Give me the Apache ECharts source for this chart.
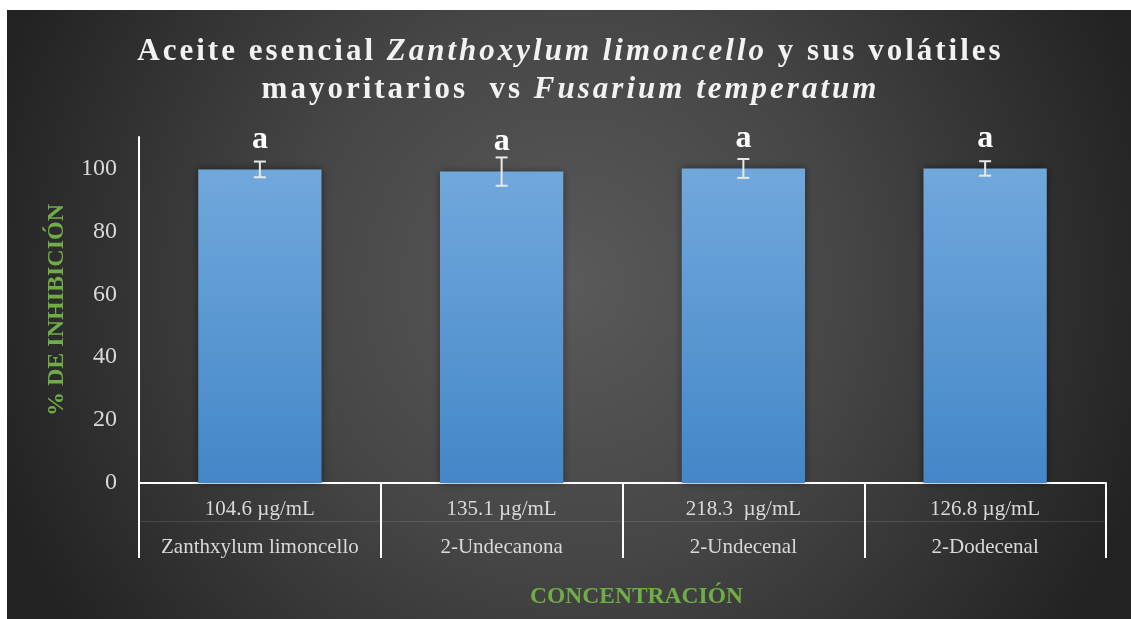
<!DOCTYPE html>
<html>
<head>
<meta charset="utf-8">
<title>Aceite esencial Zanthoxylum limoncello vs Fusarium temperatum</title>
<script src="https://cdn.jsdelivr.net/npm/echarts@6/dist/echarts.min.js"></script>
<style>
  html, body { margin: 0; padding: 0; background: #ffffff; }
  #chart { position: absolute; left: 7px; top: 10px; width: 1124px; height: 609px; }
</style>
</head>
<body>
<div id="chart"></div>
<script>
// Concentration tested for each treatment (first label row)
const concentrations = ['104.6 µg/mL', '135.1 µg/mL', '218.3  µg/mL', '126.8 µg/mL'];
// Treatment names (second label row)
const compounds = ['Zanthxylum limoncello', '2-Undecanona', '2-Undecenal', '2-Dodecenal'];
// Mean mycelial growth inhibition (%)
const inhibition = [99.7, 99.0, 100.0, 100.0];
// Standard deviation of each mean
const stdDev = [2.5, 4.5, 3.0, 2.3];
// Significance groups (Tukey letters)
const groupLetters = ['a', 'a', 'a', 'a'];
// Value axis range and step
const yMin = 0, yMax = 110, yStep = 20;

const SERIF = '"Liberation Serif", "Times New Roman", serif';
const GREEN = '#70ad47';
const LABEL_GREY = '#d9d9d9';

// Title pieces: [style, text]; each glyph becomes its own rich token so it can be tracked out
const titleLine1 = [['b', 'Aceite esencial '], ['i', 'Zanthoxylum limoncello'], ['b', ' y sus volátiles']];
const titleLine2 = [['b', 'mayoritarios  vs '], ['i', 'Fusarium temperatum']];

function tracked(parts) {
  return parts.map(([style, text]) =>
    Array.from(text).map(ch => '{' + style + '|' + ch + '}').join('')
  ).join('');
}

const titleRich = {
  b: { fontFamily: SERIF, fontWeight: 'bold', fontSize: 31, color: '#f2f2f2', padding: [0, 1.5, 0, 1.5], lineHeight: 31 },
  i: { fontFamily: SERIF, fontWeight: 'bold', fontStyle: 'italic', fontSize: 31, color: '#f2f2f2', padding: [0, 1.5, 0, 1.5], lineHeight: 31 }
};

const chart = echarts.init(document.getElementById('chart'));

const option = {
  animation: false,
  backgroundColor: {
    type: 'radial', x: 0.5, y: 0.45, r: 1.0,
    colorStops: [
      { offset: 0, color: '#5a5a5a' },
      { offset: 0.45, color: '#464646' },
      { offset: 1, color: '#222222' }
    ]
  },
  title: [
    { text: tracked(titleLine1), left: 'center', top: 26, padding: [0, 0, 0, 20], textStyle: { rich: titleRich } },
    { text: tracked(titleLine2), left: 'center', top: 64, padding: [0, 0, 0, 20], textStyle: { rich: titleRich } }
  ],
  grid: { left: 132, right: 25, top: 127, bottom: 136, containLabel: false },
  xAxis: [
    {
      type: 'category',
      data: compounds,
      axisLine: { show: true, lineStyle: { color: '#ffffff', width: 2 } },
      axisTick: { show: true, length: 75, interval: 0, alignWithLabel: false, lineStyle: { color: '#ffffff', width: 2 } },
      axisLabel: {
        interval: 0,
        margin: 7,
        formatter: (value, idx) => '{c|' + concentrations[idx] + '}\n{n|' + value + '}',
        rich: {
          c: { fontFamily: SERIF, fontSize: 21, color: LABEL_GREY, lineHeight: 38 },
          n: { fontFamily: SERIF, fontSize: 21, color: LABEL_GREY, lineHeight: 38 }
        }
      },
      splitLine: { show: false },
      name: 'CONCENTRACIÓN',
      nameLocation: 'middle',
      nameGap: 102,
      nameTextStyle: { color: GREEN, fontFamily: SERIF, fontWeight: 'bold', fontSize: 23.5, padding: [0, 0, 0, 28] }
    },
    {
      // faint rule between the two label rows
      type: 'category',
      data: compounds,
      position: 'bottom',
      offset: 38,
      axisLine: { show: true, lineStyle: { color: 'rgba(255,255,255,0.12)', width: 1 } },
      axisTick: { show: false },
      axisLabel: { show: false },
      splitLine: { show: false }
    }
  ],
  yAxis: {
    type: 'value',
    min: yMin,
    max: yMax,
    interval: yStep,
    axisLine: { show: true, lineStyle: { color: '#ffffff', width: 2 } },
    axisTick: { show: false },
    splitLine: { show: false },
    axisLabel: { showMaxLabel: false, color: LABEL_GREY, fontFamily: SERIF, fontSize: 24, margin: 22 },
    name: '% DE INHIBICIÓN',
    nameLocation: 'middle',
    nameGap: 70,
    nameTextStyle: { color: GREEN, fontFamily: SERIF, fontWeight: 'bold', fontSize: 24 }
  },
  series: [
    {
      type: 'bar',
      data: inhibition,
      barWidth: '51%',
      itemStyle: {
        color: {
          type: 'linear', x: 0, y: 0, x2: 0, y2: 1,
          colorStops: [
            { offset: 0, color: '#71a8dc' },
            { offset: 1, color: '#4387c8' }
          ]
        },
        shadowBlur: 8,
        shadowColor: 'rgba(0,0,0,0.45)'
      },
      label: {
        show: true,
        position: 'top',
        distance: 14,
        formatter: p => groupLetters[p.dataIndex],
        color: '#ffffff',
        fontFamily: SERIF,
        fontWeight: 'bold',
        fontSize: 32
      },
      z: 2
    },
    {
      type: 'custom',
      name: 'sd',
      data: inhibition.map((v, i) => [i, v - stdDev[i], v + stdDev[i]]),
      encode: { x: 0, y: [1, 2] },
      renderItem: (params, api) => {
        const i = api.value(0);
        const lo = api.coord([i, api.value(1)]);
        const hi = api.coord([i, api.value(2)]);
        const half = 6;
        const st = { stroke: '#e8e8e8', lineWidth: 2 };
        return {
          type: 'group',
          children: [
            { type: 'line', shape: { x1: lo[0], y1: lo[1], x2: hi[0], y2: hi[1] }, style: st },
            { type: 'line', shape: { x1: lo[0] - half, y1: lo[1], x2: lo[0] + half, y2: lo[1] }, style: st },
            { type: 'line', shape: { x1: hi[0] - half, y1: hi[1], x2: hi[0] + half, y2: hi[1] }, style: st }
          ]
        };
      },
      z: 5
    }
  ]
};

chart.setOption(option);
</script>
</body>
</html>
